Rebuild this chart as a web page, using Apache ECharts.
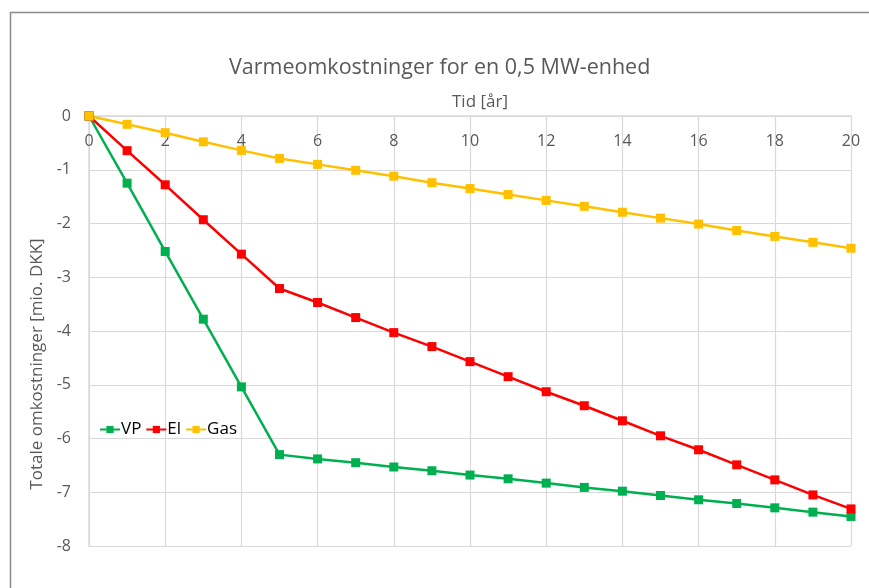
<!DOCTYPE html>
<html>
<head>
<meta charset="utf-8">
<script src="https://cdn.jsdelivr.net/npm/echarts@6/dist/echarts.min.js"></script>
<style>
html,body{margin:0;padding:0;background:#fff;}
#chart{width:869px;height:588px;}
</style>
</head>
<body>
<div id="chart"></div>
<script>
const years = [0,1,2,3,4,5,6,7,8,9,10,11,12,13,14,15,16,17,18,19,20];
const vp  = [0,-1.25,-2.52,-3.78,-5.04,-6.30,-6.38,-6.45,-6.53,-6.60,-6.68,-6.75,-6.83,-6.91,-6.98,-7.06,-7.14,-7.21,-7.29,-7.37,-7.45];
const el  = [0,-0.645,-1.28,-1.93,-2.57,-3.21,-3.47,-3.75,-4.03,-4.29,-4.57,-4.85,-5.13,-5.39,-5.67,-5.95,-6.21,-6.49,-6.77,-7.05,-7.31];
const gas = [0,-0.155,-0.31,-0.48,-0.64,-0.79,-0.90,-1.01,-1.12,-1.24,-1.35,-1.46,-1.57,-1.68,-1.79,-1.90,-2.01,-2.13,-2.24,-2.35,-2.46];
const seriesNames = ['VP','El','Gas'];
const seriesColors = ['#00B050','#FF0000','#FFC000'];
const seriesData = [vp, el, gas];

const font = 'Open Sans';
const chart = echarts.init(document.getElementById('chart'), null, {renderer:'canvas'});
chart.setOption({
  animation:false,
  backgroundColor:'#fff',
  textStyle:{fontFamily:font},
  graphic:[{type:'rect', left:8, top:10, shape:{width:900, height:620}, style:{fill:'none', stroke:'#8a8a8a', lineWidth:1.5}, z:-1}],
  title:{text:'Varmeomkostninger for en 0,5 MW-enhed', left:224, top:52,
    textStyle:{fontFamily:font, fontSize:21.5, fontWeight:'normal', color:'#595959'}},
  legend:{left:95, top:416, itemGap:4, itemWidth:20, itemHeight:9, padding:[5,4,5,4],
    data:seriesNames, textStyle:{fontFamily:font, fontSize:17, color:'#000', padding:[0,0,0,-4]}},
  grid:{left:89, right:18, top:116, bottom:42, containLabel:false},
  xAxis:{type:'value', position:'top', min:0, max:20, interval:2,
    name:'Tid [år]', nameLocation:'middle', nameGap:3,
    nameTextStyle:{fontFamily:font, fontSize:17, color:'#595959', padding:[0,0,0,20]},
    axisLine:{show:true, lineStyle:{color:'#d9d9d9', width:1.5}},
    axisTick:{show:false},
    axisLabel:{inside:true, margin:17, fontFamily:font, fontSize:16, color:'#595959'},
    splitLine:{show:true, lineStyle:{color:'#d9d9d9', width:1.2}}},
  yAxis:{type:'value', min:-8, max:0, interval:1,
    name:'Totale omkostninger [mio. DKK]', nameLocation:'middle', nameGap:41,
    nameTextStyle:{fontFamily:font, fontSize:17, color:'#595959', padding:[0,66,0,0]},
    axisLine:{show:true, lineStyle:{color:'#d9d9d9', width:1.5}},
    axisTick:{show:false},
    axisLabel:{margin:18, fontFamily:font, fontSize:16, color:'#595959'},
    splitLine:{show:true, lineStyle:{color:'#d9d9d9', width:1.2}}},
  series: seriesNames.map((n,i)=>({
    name:n, type:'line', symbol:'rect', symbolSize:9,
    data: years.map((x,j)=>[x, seriesData[i][j]]),
    itemStyle:{color:seriesColors[i]},
    lineStyle:{color:seriesColors[i], width:2.5}
  }))
});
</script>
</body>
</html>
